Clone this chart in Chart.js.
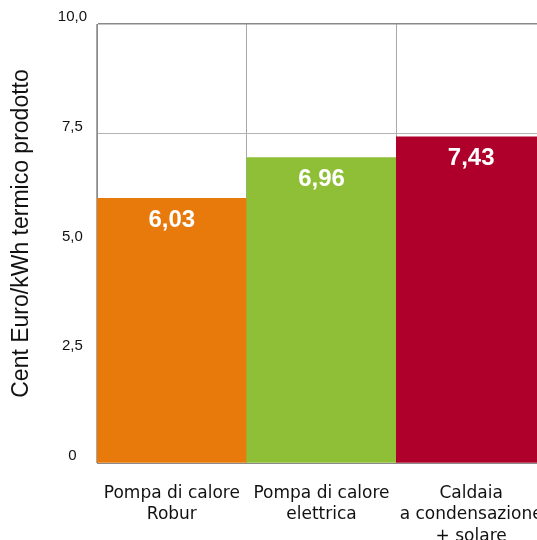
<!DOCTYPE html>
<html>
<head>
<meta charset="utf-8">
<script src="https://cdn.jsdelivr.net/npm/chart.js@4.4.1/dist/chart.umd.min.js"></script>
<style>
    html, body { margin: 0; padding: 0; background: #fff; overflow: hidden; }
    #wrap { width: 580px; height: 540px; }
</style>
</head>
<body>
<div id="wrap"><canvas id="costChart"></canvas></div>
<script>
// chart data
const categories = [
    ['Pompa di calore', 'Robur'],
    ['Pompa di calore', 'elettrica'],
    ['Caldaia', 'a condensazione', '+ solare']
];
const costs = [6.03, 6.96, 7.43];
const barColors = ['#E8790B', '#8FBF37', '#AE002B'];
const yTicks = [0, 2.5, 5, 7.5, 10];
const yTitle = 'Cent Euro/kWh termico prodotto';

var formatComma = function (value, decimals) {
    return value.toFixed(decimals).replace('.', ',');
};

const drawBarValues = {
    id: 'drawBarValues',
    afterDatasetsDraw: function (chart) {
        var ctx = chart.ctx;
        ctx.save();
        ctx.fillStyle = '#ffffff';
        ctx.font = 'bold 24px "Liberation Sans", Arial, sans-serif';
        ctx.textAlign = 'center';
        ctx.textBaseline = 'middle';
        chart.data.datasets.forEach(function (dataset, i) {
            var meta = chart.getDatasetMeta(i);
            meta.data.forEach(function (bar, index) {
                ctx.fillText(formatComma(dataset.data[index], 2), bar.x, bar.y + 22);
            });
        });
        ctx.restore();
    }
};

// y title drawn by hand, it sits a bit above the middle of the axis
const drawYTitle = {
    id: 'drawYTitle',
    afterDraw: function (chart) {
        var ctx = chart.ctx;
        var area = chart.chartArea;
        ctx.save();
        ctx.translate(22, (area.top + area.bottom) / 2 - 10);
        ctx.rotate(-Math.PI / 2);
        ctx.fillStyle = '#111';
        ctx.font = '23px "Liberation Sans", Arial, sans-serif';
        ctx.textAlign = 'center';
        ctx.textBaseline = 'middle';
        ctx.fillText(yTitle, 0, 0);
        ctx.restore();
    }
};

let costChart = new Chart(document.getElementById('costChart'), {
    type: 'bar',
    data: {
        labels: categories,
        datasets: [{
            data: costs,
            backgroundColor: barColors,
            borderWidth: 0,
            barPercentage: 1,
            categoryPercentage: 1
        }]
    },
    options: {
        responsive: true,
        maintainAspectRatio: false,
        animation: false,
        layout: {
            padding: { top: 24, right: 34, bottom: 0, left: 0 }
        },
        plugins: {
            legend: { display: false },
            tooltip: { enabled: false }
        },
        scales: {
            x: {
                grid: {
                    offset: true,
                    drawTicks: false,
                    color: '#a8a8a8'
                },
                border: { color: '#8a8a8a' },
                ticks: {
                    padding: 20,
                    maxRotation: 0,
                    autoSkip: false,
                    color: '#111',
                    font: { family: '"DejaVu Sans", sans-serif', size: 17, lineHeight: 1.25 }
                },
                afterFit: function (scale) { scale.height = 77; }
            },
            y: {
                min: 0,
                max: 10,
                afterBuildTicks: function (scale) {
                    scale.ticks = yTicks.map(function (v) { return { value: v }; });
                },
                grid: {
                    drawTicks: false,
                    color: function (c) { return c.tick && c.tick.value === 10 ? '#8a8a8a' : '#b4b4b4'; },
                    lineWidth: function (c) { return c.tick && c.tick.value === 10 ? 1.5 : 1; }
                },
                border: { color: '#8a8a8a' },
                ticks: {
                    crossAlign: 'center',
                    padding: 10,
                    labelOffset: -7,
                    color: '#111',
                    font: { family: '"Liberation Sans", Arial, sans-serif', size: 15 },
                    callback: function (v) { return v === 0 ? '0' : formatComma(v, 1); }
                },
                afterFit: function (scale) { scale.width = 97; }
            }
        }
    },
    plugins: [drawBarValues, drawYTitle]
});
</script>
</body>
</html>
